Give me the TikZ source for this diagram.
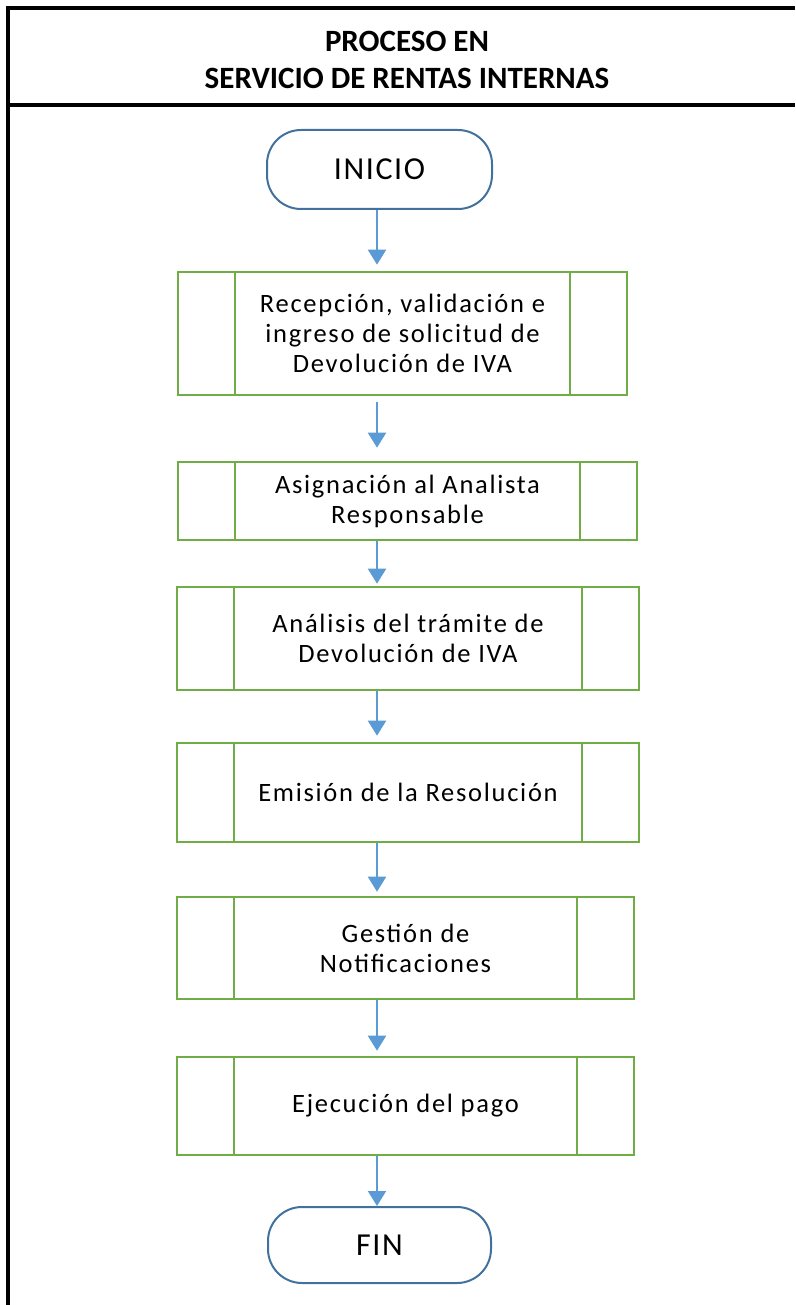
\documentclass[tikz,border=0pt]{standalone}
\usepackage{fontspec}
\setmainfont{Carlito}
\newfontfamily\bodyf[LetterSpace=6.5]{Carlito}
\newfontfamily\termf[LetterSpace=5]{Carlito}
\usetikzlibrary{arrows.meta}
\definecolor{procgreen}{HTML}{70AD47}
\definecolor{arrblue}{HTML}{5B9BD5}
\definecolor{termblue}{HTML}{41719C}
\tikzset{
  frameline/.style={line width=3.2pt, black},
  titletext/.style={anchor=base, font=\fontsize{31}{37}\selectfont\bfseries, inner sep=0pt},
  term/.style={draw=termblue, line width=2pt, rounded corners=34pt, inner sep=0pt,
    font=\termf\fontsize{32}{36}\selectfont},
  proc/.style={draw=procgreen, line width=2.6pt, inner sep=0pt, align=center,
    font=\bodyf\fontsize{26.5}{30}\selectfont,
    path picture={
      \draw[procgreen, line width=2.6pt]
        ([xshift=57pt]path picture bounding box.north west) --
        ([xshift=57pt]path picture bounding box.south west);
      \draw[procgreen, line width=2.6pt]
        ([xshift=-57pt]path picture bounding box.north east) --
        ([xshift=-57pt]path picture bounding box.south east);
    }},
  flow/.style={draw=arrblue, line width=2pt, -{Triangle[width=18pt,length=15pt]}}
}
\begin{document}
\begin{tikzpicture}[x=1pt,y=-1pt]
\useasboundingbox (0,0) rectangle (795,1305);
% frame
\draw[frameline] (795,8) -- (8,8) -- (8,1305);
\draw[frameline] (8,105) -- (795,105);
% title
\node[titletext] (t1) at (407,52) {PROCESO EN};
\node[titletext] (t2) at (407,89) {SERVICIO DE RENTAS INTERNAS};
% axis of the arrows
\coordinate (axis) at (377,0);
% nodes
\node[term, minimum width=225pt, minimum height=79pt] (ini) at (379.5,169.5) {INICIO};
\node[proc, minimum width=449pt, minimum height=123pt] (b1) at (402.5,333.5)
  {Recepción, validación e\\ingreso de solicitud de\\Devolución de IVA};
\node[proc, minimum width=459pt, minimum height=78pt] (b2) at (407.5,501)
  {Asignación al Analista\\Responsable};
\node[proc, minimum width=462pt, minimum height=103pt] (b3) at (408,638.5)
  {Análisis del trámite de\\Devolución de IVA};
\node[proc, minimum width=462pt, minimum height=99pt] (b4) at (408,792.5)
  {Emisión de la Resolución};
\node[proc, minimum width=457pt, minimum height=102pt] (b5) at (405.5,948)
  {Gestión de\\Notificaciones};
\node[proc, minimum width=457pt, minimum height=98pt] (b6) at (405.5,1106)
  {Ejecución del pago};
\node[term, minimum width=223pt, minimum height=76pt] (fin) at (379.5,1245) {FIN};
% connectors
\draw[flow, shorten >=6pt] (ini.south -| axis) -- (b1.north -| axis);
\draw[flow, shorten <=6pt, shorten >=13pt] (b1.south -| axis) -- (b2.north -| axis);
\draw[flow, shorten >=2pt] (b2.south -| axis) -- (b3.north -| axis);
\draw[flow, shorten >=6pt] (b3.south -| axis) -- (b4.north -| axis);
\draw[flow, shorten >=4pt] (b4.south -| axis) -- (b5.north -| axis);
\draw[flow, shorten >=5pt] (b5.south -| axis) -- (b6.north -| axis);
\draw[flow] (b6.south -| axis) -- (fin.north -| axis);
\end{tikzpicture}
\end{document}
